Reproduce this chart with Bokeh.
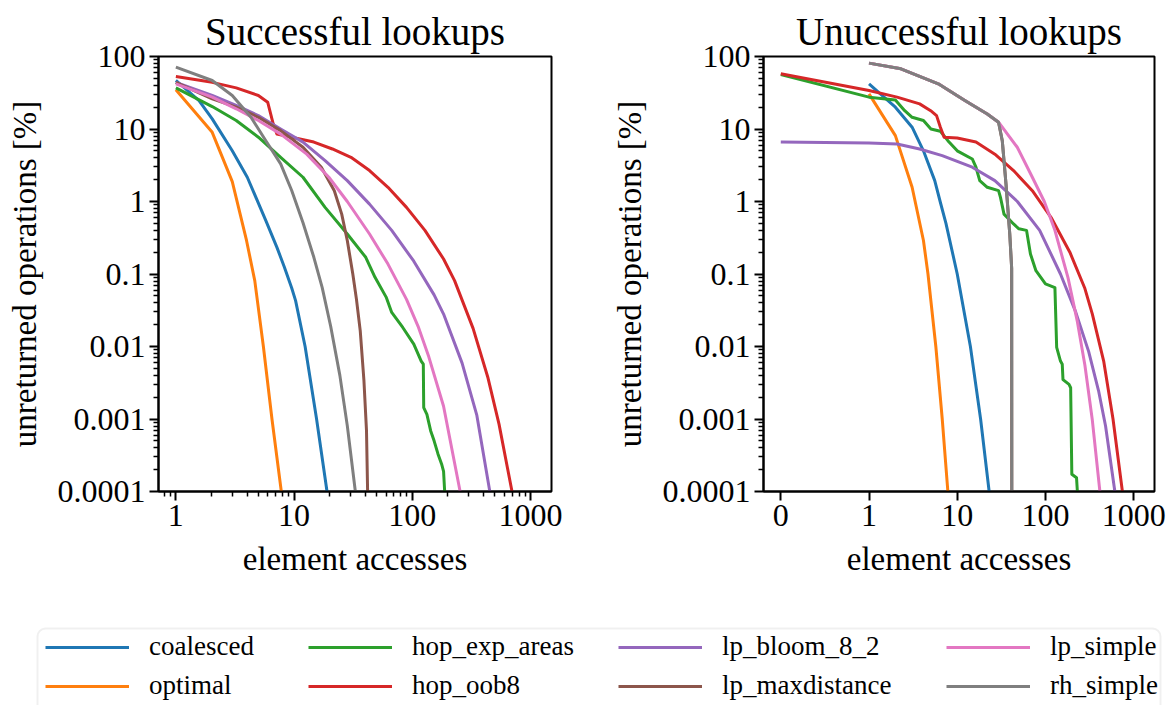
import numpy as np
from bokeh.plotting import figure
from bokeh.models import Range1d, FixedTicker, Legend, LegendItem, BoxAnnotation
from bokeh.layouts import column, row
from bokeh.embed import file_html
from bokeh.resources import INLINE

FONT = "Liberation Serif"

series_names = ["coalesced", "optimal", "hop_exp_areas", "hop_oob8",
                "lp_bloom_8_2", "lp_maxdistance", "lp_simple", "rh_simple"]
series_colors = ["#1f77b4", "#ff7f0e", "#2ca02c", "#d62728",
                 "#9467bd", "#8c564b", "#e377c2", "#7f7f7f"]

y_ticks = [1e-4, 1e-3, 1e-2, 1e-1, 1, 10, 100]
y_tick_labels = ["0.0001", "0.001", "0.01", "0.1", "1", "10", "100"]
x_ticks_left = [1, 10, 100, 1000]
x_tick_labels_left = ["1", "10", "100", "1000"]
x_ticks_right = [0, 1, 10, 100, 1000]
x_tick_labels_right = ["0", "1", "10", "100", "1000"]

# ---------------- Successful lookups ----------------
coalesced_s_x = [1, 1.57, 2.03, 3.0, 4.02, 5.77, 7.16, 8.27, 9.55, 10.3, 12.4, 15.5, 19.0]
coalesced_s_y = [46.7, 24.7, 13.8, 5.0, 2.16, 0.545, 0.233, 0.125, 0.064, 0.043, 0.01, 0.001, 0.0001]
optimal_s_x = [1, 2.03, 3.0, 3.96, 4.65, 5.5, 6.5, 7.8]
optimal_s_y = [34.7, 9.0, 1.88, 0.29, 0.081, 0.01, 0.001, 0.0001]
hop_exp_areas_s_x = [1, 2.03, 3.24, 4.99, 7.7, 11.9, 18.3, 28.2, 40.4, 48.4, 60.1, 67, 83.1, 103,
                     119, 124, 125, 133, 143, 153, 165, 177, 184, 188]
hop_exp_areas_s_y = [36.9, 20.4, 13.1, 7.7, 4.07, 2.16, 0.83, 0.356, 0.17, 0.09, 0.048, 0.0295, 0.0183, 0.0108,
                     0.0063, 0.0057, 0.00144, 0.00116, 0.00069, 0.0005, 0.00033, 0.00024, 0.00019, 0.0001]
hop_oob8_s_x = [1, 2.03, 3.24, 4.99, 5.98, 6.66, 7.16, 9.55, 14.7, 21.1, 30.3, 43.5, 62.3, 89.4,
                128, 184, 228, 327, 437, 542, 698]
hop_oob8_s_y = [53, 44, 36.9, 29, 23.4, 11.8, 8.5, 7.7, 6.6, 5.3, 4.07, 2.67, 1.57, 0.83,
                0.40, 0.161, 0.081, 0.0178, 0.0037, 0.00085, 0.0001]
lp_bloom_8_2_s_x = [1, 2.03, 3.24, 4.99, 7.7, 11.9, 18.3, 28.2, 43.5, 67, 103, 153, 184, 264, 352, 453]
lp_bloom_8_2_s_y = [44, 29, 21.1, 15.3, 10, 6.6, 3.66, 1.94, 0.92, 0.40, 0.15, 0.0515, 0.028, 0.0059, 0.00112, 0.0001]
lp_maxdistance_s_x = [1, 2.03, 3.24, 4.99, 7.7, 11.9, 17, 21.9, 25.3, 28.2, 31.4, 33.7, 36.3, 39, 41, 41.9]
lp_maxdistance_s_y = [44, 26, 20, 14.5, 9.5, 5.6, 2.97, 1.41, 0.67, 0.29, 0.1, 0.045, 0.0164, 0.0034, 0.00069, 0.0001]
lp_simple_s_x = [1, 2.03, 3.24, 4.99, 7.7, 12.8, 19.7, 28.2, 43.5, 62.3, 89.4, 112, 138, 184, 254]
lp_simple_s_y = [42, 27.5, 19, 13.1, 8.5, 4.5, 2.16, 1.0, 0.356, 0.137, 0.0447, 0.019, 0.0072, 0.0015, 0.0001]
rh_simple_s_x = [1, 2.03, 3.0, 4.32, 5.77, 7.7, 9.55, 11.9, 14.7, 17.3, 20.4, 24.4, 28.2, 33.0]
rh_simple_s_y = [71.3, 46.7, 29, 14.5, 6.9, 3.3, 1.42, 0.51, 0.17, 0.065, 0.019, 0.004, 0.00081, 0.0001]

# ---------------- Unsuccessful lookups ----------------
coalesced_u_x = [1, 1.99, 3.08, 4.14, 5.56, 6.4, 7.45, 10, 14.1, 18.4, 23]
coalesced_u_y = [42, 20, 10.6, 5.0, 1.94, 1.0, 0.5, 0.1, 0.01, 0.001, 0.0001]
optimal_u_x = [1, 1.99, 3.08, 4.14, 4.66, 5.72, 6.76, 7.83]
optimal_u_y = [30.5, 8.1, 1.57, 0.29, 0.1, 0.01, 0.001, 0.0001]
hop_exp_areas_u_x = [0, 1, 1.99, 2.54, 3.08, 4.14, 5.03, 6.44, 7.83, 10, 14.8, 16.3, 18, 21.9, 29.4,
                     30.9, 33.9, 43.5, 50, 61, 67.6, 78, 100, 128, 134, 148, 155, 158, 185, 193,
                     199, 225, 230]
hop_exp_areas_u_y = [56.5, 27.5, 25.2, 17.9, 14.5, 13.1, 10, 9.3, 6.9, 5.0, 3.86, 2.97, 1.94, 1.57, 1.41,
                     1.14, 0.67, 0.49, 0.42, 0.40, 0.189, 0.111, 0.073, 0.065, 0.0097, 0.0063, 0.0057,
                     0.0035, 0.0030, 0.0027, 0.000173, 0.000155, 0.0001]
hop_oob8_u_x = [0, 1, 2.08, 3.75, 5.0, 5.83, 6.44, 7.1, 10, 16.3, 26.7, 43.5, 71, 116, 189, 280,
                340, 457, 583, 745]
hop_oob8_u_y = [57.7, 33.9, 27.5, 22.2, 17.9, 15.3, 10.6, 7.7, 7.5, 6.6, 4.5, 2.67, 1.41, 0.6, 0.2,
                0.063, 0.028, 0.0063, 0.001, 0.0001]
lp_bloom_8_2_u_x = [0, 1, 2.08, 3.75, 6.76, 14.8, 26.7, 48, 86, 148, 220, 309, 400, 480, 612]
lp_bloom_8_2_u_y = [6.64, 6.43, 6.2, 5.3, 4.3, 2.97, 1.94, 1.0, 0.4, 0.1, 0.03, 0.0085, 0.00245, 0.0008, 0.0001]
lp_maxdistance_u_x = [1, 2.3, 6.1, 12.2, 21.9, 29.4, 32.4, 35.7, 39.4, 41.4, 41.6]
lp_maxdistance_u_y = [81, 67.6, 42, 24.7, 16.1, 12.4, 6.9, 1.75, 0.356, 0.12, 0.00001]
lp_simple_u_x = [1, 2.3, 6.1, 12.2, 21.9, 29.4, 47.9, 71, 97, 128, 180, 230, 280, 340, 414]
lp_simple_u_y = [81, 67.6, 42, 24.7, 16.1, 12.4, 5.6, 2.16, 1.0, 0.40, 0.089, 0.022, 0.0055, 0.00096, 0.0001]
rh_simple_u_x = [1, 2.3, 6.1, 12.2, 21.9, 29.4, 32.4, 35.7, 39.4, 41.4, 41.6]
rh_simple_u_y = [81, 67.6, 42, 24.7, 16.1, 12.4, 6.9, 1.75, 0.356, 0.12, 0.00001]

successful = [
    (coalesced_s_x, coalesced_s_y), (optimal_s_x, optimal_s_y),
    (hop_exp_areas_s_x, hop_exp_areas_s_y), (hop_oob8_s_x, hop_oob8_s_y),
    (lp_bloom_8_2_s_x, lp_bloom_8_2_s_y), (lp_maxdistance_s_x, lp_maxdistance_s_y),
    (lp_simple_s_x, lp_simple_s_y), (rh_simple_s_x, rh_simple_s_y),
]
unsuccessful = [
    (coalesced_u_x, coalesced_u_y), (optimal_u_x, optimal_u_y),
    (hop_exp_areas_u_x, hop_exp_areas_u_y), (hop_oob8_u_x, hop_oob8_u_y),
    (lp_bloom_8_2_u_x, lp_bloom_8_2_u_y), (lp_maxdistance_u_x, lp_maxdistance_u_y),
    (lp_simple_u_x, lp_simple_u_y), (rh_simple_u_x, rh_simple_u_y),
]


def symlog(x):
    """symmetric-log scale with linear region [0, 1] (one decade wide)"""
    x = np.asarray(x, dtype=float)
    return np.where(x <= 1, x, 1 + np.log10(np.maximum(x, 1)))


def decade_minors(lo_exp, hi_exp):
    return [m * 10.0 ** e for e in range(lo_exp, hi_exp) for m in range(2, 10)]


def style(p, title):
    p.title.text = title
    p.title.text_font = FONT
    p.title.text_font_size = "39px"
    p.title.text_font_style = "normal"
    p.title.text_color = "black"
    p.title.align = "center"
    p.title.standoff = 8
    p.xgrid.visible = False
    p.ygrid.visible = False
    p.outline_line_color = "black"
    p.outline_line_width = 2
    p.outline_line_alpha = 1
    p.background_fill_color = "white"
    p.border_fill_color = "white"
    for ax in (p.xaxis[0], p.yaxis[0]):
        ax.axis_label_text_font = FONT
        ax.axis_label_text_font_size = "33px"
        ax.axis_label_text_font_style = "normal"
        ax.axis_label_text_color = "black"
        ax.major_label_text_font = FONT
        ax.major_label_text_font_size = "32px"
        ax.major_label_text_color = "black"
        ax.axis_line_color = "black"
        ax.axis_line_width = 2
        ax.major_tick_line_color = "black"
        ax.major_tick_line_width = 2
        ax.major_tick_out = 9
        ax.major_tick_in = 0
        ax.minor_tick_line_color = "black"
        ax.minor_tick_line_width = 1.5
        ax.minor_tick_out = 5
        ax.minor_tick_in = 0
        ax.major_label_standoff = 4
        ax.axis_label_standoff = 12
    p.xaxis[0].axis_label = "element accesses"
    p.yaxis[0].axis_label = "unreturned operations [%]"
    p.yaxis[0].ticker = FixedTicker(ticks=y_ticks, minor_ticks=decade_minors(-4, 2))
    p.yaxis[0].major_label_overrides = {t: l for t, l in zip(y_ticks, y_tick_labels)}


# ---------- left panel ----------
p1 = figure(width=600, height=600, x_axis_type="log", y_axis_type="log",
            x_range=Range1d(10 ** -0.147, 10 ** 3.178), y_range=Range1d(1e-4, 100),
            output_backend="svg", toolbar_location=None,
            min_border_left=158, min_border_right=49, min_border_top=56, min_border_bottom=109)
style(p1, "Successful lookups")
p1.xaxis[0].ticker = FixedTicker(ticks=x_ticks_left,
                                 minor_ticks=[0.7, 0.8, 0.9] + decade_minors(0, 3))
p1.xaxis[0].major_label_overrides = {t: l for t, l in zip(x_ticks_left, x_tick_labels_left)}
for (xs, ys), c in zip(successful, series_colors):
    p1.line(xs, ys, line_color=c, line_width=3, line_join="round")

# ---------- right panel ----------
p2 = figure(width=570, height=600, y_axis_type="log",
            x_range=Range1d(-0.196, 4.236), y_range=Range1d(1e-4, 100),
            output_backend="svg", toolbar_location=None,
            min_border_left=163, min_border_right=16, min_border_top=56, min_border_bottom=109)
style(p2, "Unuccessful lookups")
rt = [float(v) for v in symlog(x_ticks_right)]
p2.xaxis[0].ticker = FixedTicker(ticks=rt, minor_ticks=[])
p2.xaxis[0].major_label_overrides = {t: l for t, l in zip(rt, x_tick_labels_right)}
for (xs, ys), c in zip(unsuccessful, series_colors):
    p2.line(symlog(xs), ys, line_color=c, line_width=3, line_join="round")

# ---------- legend strip ----------
p3 = figure(width=1170, height=105, x_range=Range1d(0, 1170), y_range=Range1d(105, 0),
            x_axis_type=None, y_axis_type=None, output_backend="svg", toolbar_location=None,
            min_border=0, min_border_left=0, min_border_right=0, min_border_top=0, min_border_bottom=0)
p3.xgrid.visible = False
p3.ygrid.visible = False
p3.outline_line_color = None
p3.background_fill_color = "white"
p3.border_fill_color = "white"
p3.add_layout(BoxAnnotation(left=37, right=1160, top=28, bottom=300,
                            fill_alpha=0, line_color="#cccccc", line_width=2, border_radius=8))

# legend proxies (a single undefined point, so nothing is drawn in the strip itself)
dummy = [p3.line([np.nan], [np.nan], line_color=c, line_width=3) for c in series_colors]
col_x = [8, 271, 581, 909]
for k in range(4):
    items = [LegendItem(label=series_names[2 * k + j], renderers=[dummy[2 * k + j]]) for j in range(2)]
    lg = Legend(items=items, location=(37 + col_x[k], 4), orientation="vertical",
                padding=0, spacing=8, margin=0,
                glyph_width=84, glyph_height=30, label_height=30, label_standoff=20,
                label_text_font=FONT, label_text_font_size="27px", label_text_color="black",
                border_line_alpha=0, background_fill_alpha=0)
    p3.add_layout(lg)

layout = column(row(p1, p2), p3)
open("out.html", "w").write(file_html(layout, INLINE))
